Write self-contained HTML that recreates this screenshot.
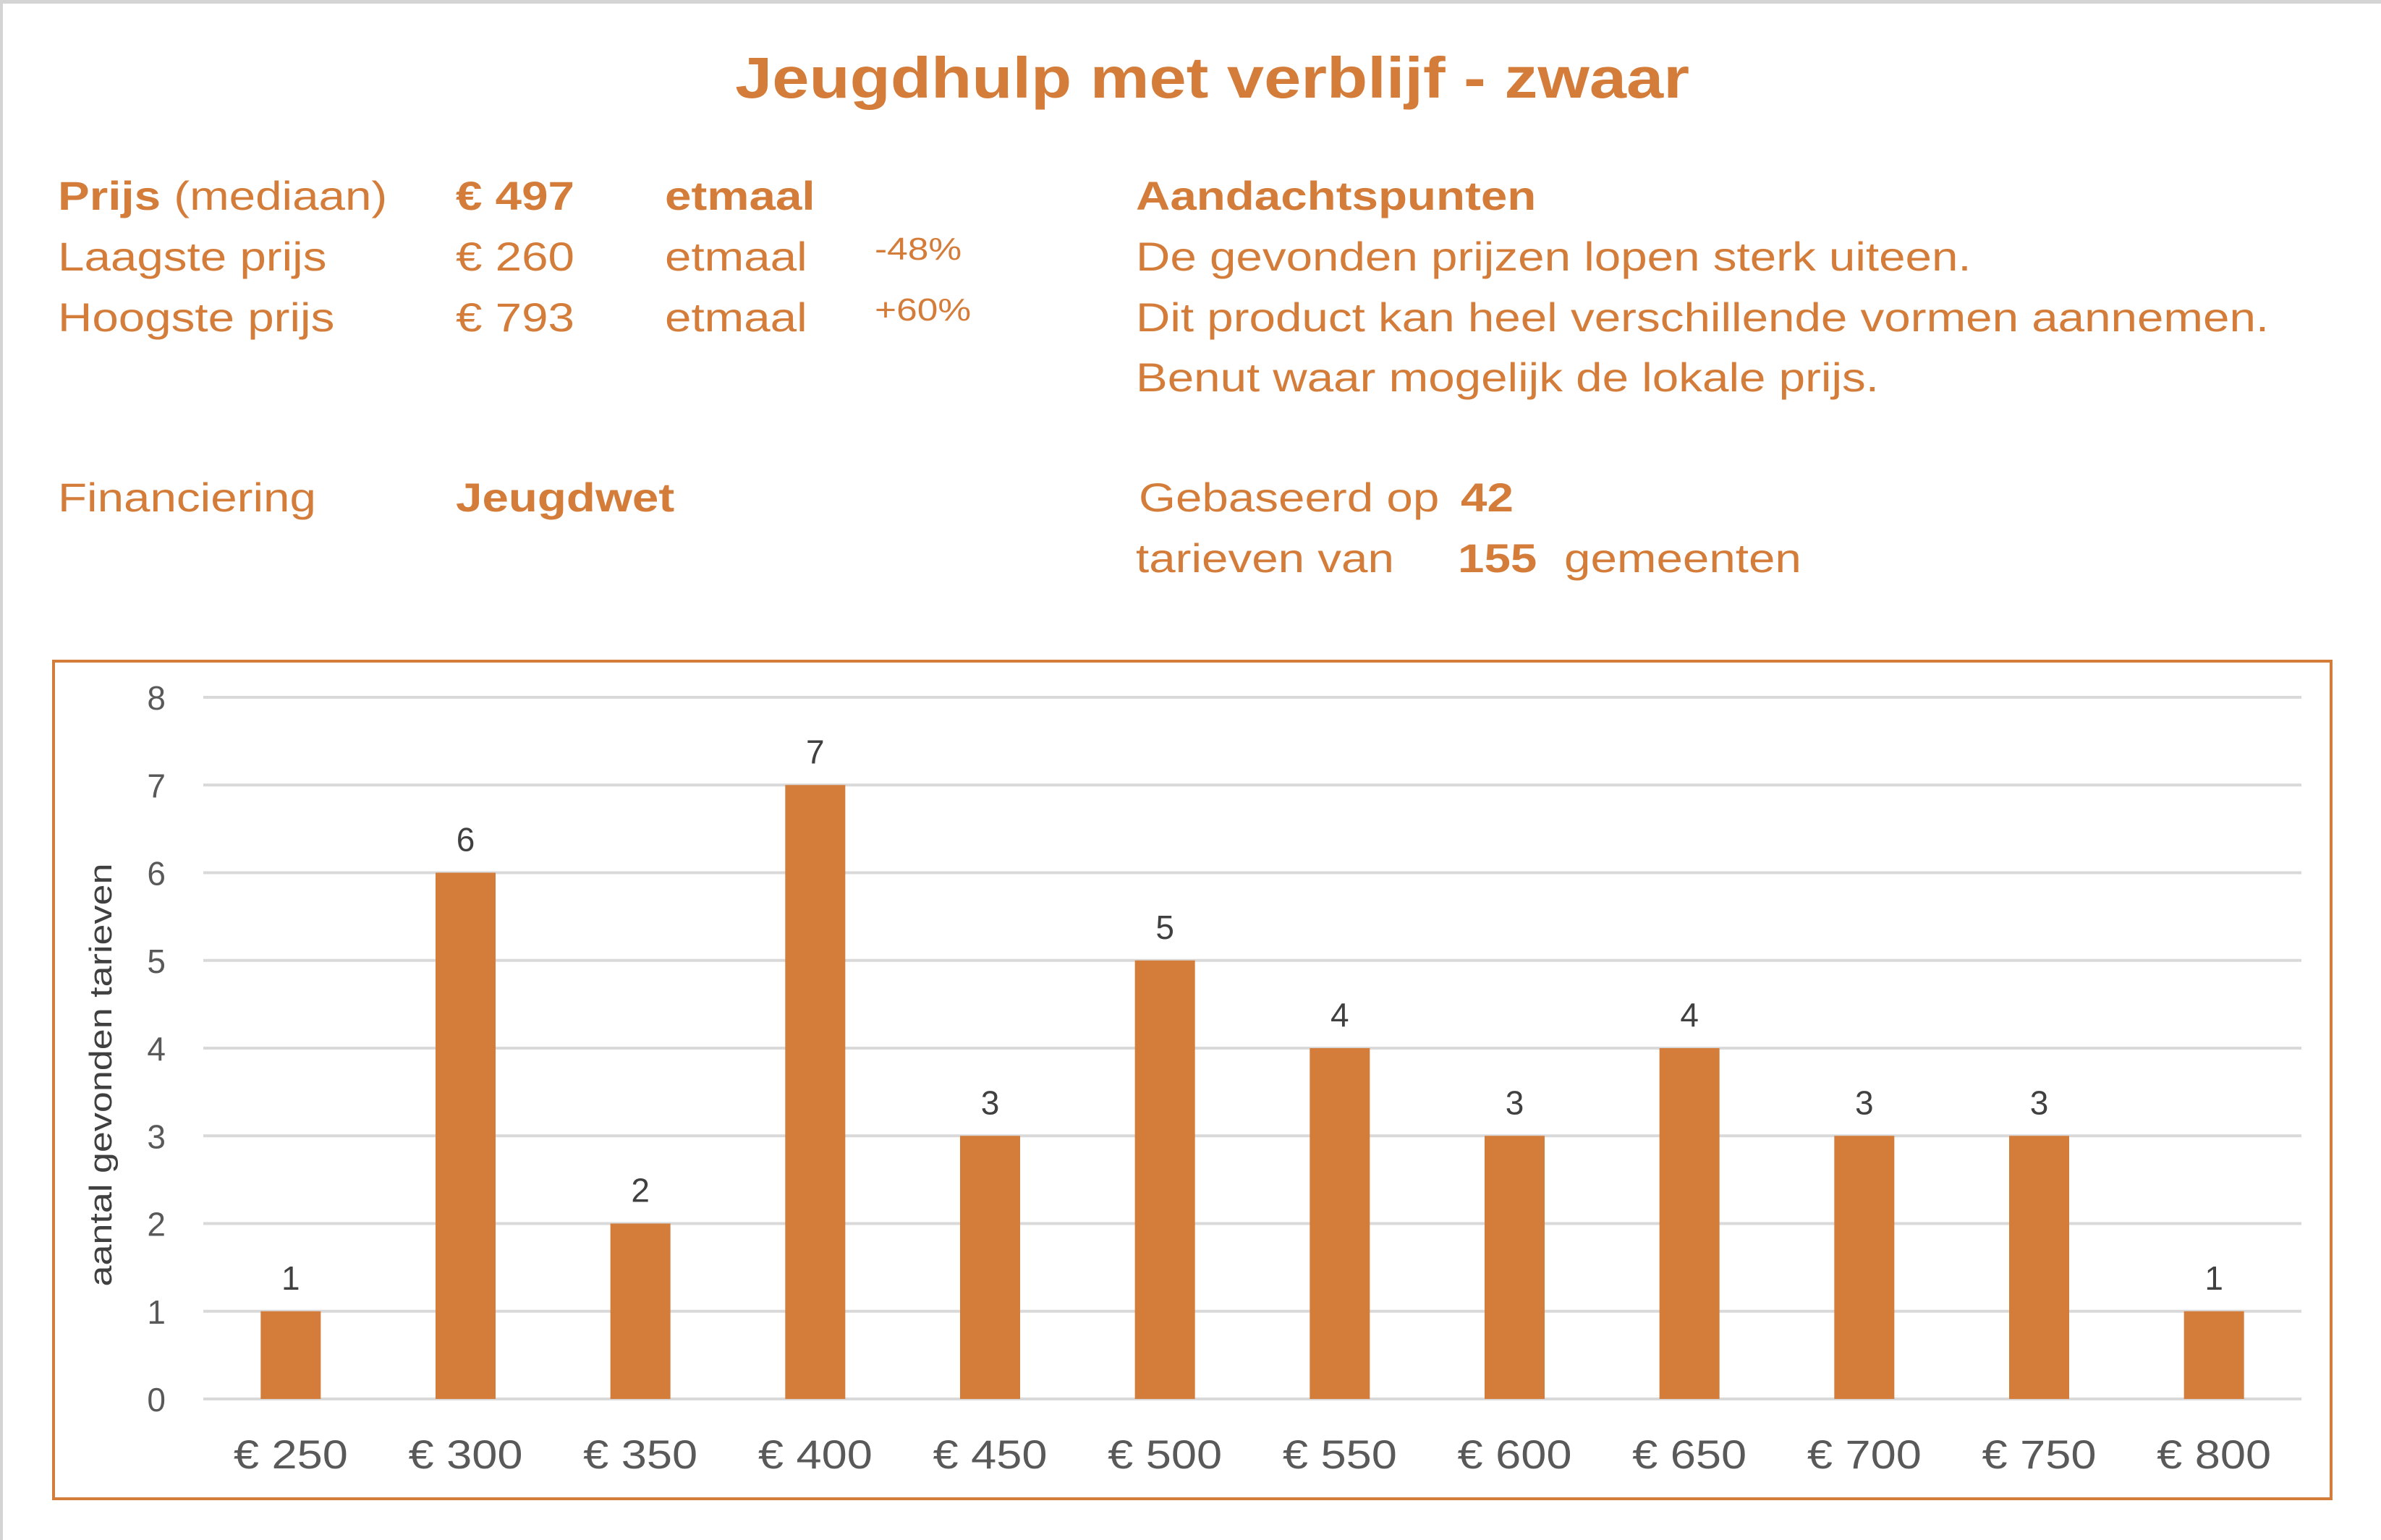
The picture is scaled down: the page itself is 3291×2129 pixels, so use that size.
<!DOCTYPE html>
<html><head><meta charset="utf-8"><style>
html,body{margin:0;padding:0;background:#fff}
body{width:3291px;height:2129px;overflow:hidden;position:relative;font-family:"Liberation Sans",sans-serif}
.t{position:absolute;color:#D47D3A;font-size:56px;white-space:nowrap;line-height:1;transform:scaleX(1.17);transform-origin:left top}
.b{font-weight:bold}
</style></head><body>
<div style="position:absolute;left:0;top:0;width:3291px;height:2129px;border-top:5px solid #d4d4d4;border-left:4px solid #d4d4d4;box-sizing:border-box"></div>
<div class="t b" style="left:0;width:3351px;text-align:center;top:68px;font-size:80px;transform:scaleX(1.15);transform-origin:1675px 0">Jeugdhulp met verblijf - zwaar</div>

<div class="t" style="left:80px;top:243px"><span class="b">Prijs</span> (mediaan)</div>
<div class="t b" style="left:630px;top:243px">€ 497</div>
<div class="t b" style="left:919px;top:243px">etmaal</div>
<div class="t" style="left:80px;top:327px">Laagste prijs</div>
<div class="t" style="left:630px;top:327px">€ 260</div>
<div class="t" style="left:919px;top:327px">etmaal</div>
<div class="t" style="left:1209px;top:323px;font-size:44px">-48%</div>
<div class="t" style="left:80px;top:411px">Hoogste prijs</div>
<div class="t" style="left:630px;top:411px">€ 793</div>
<div class="t" style="left:919px;top:411px">etmaal</div>
<div class="t" style="left:1209px;top:407px;font-size:44px">+60%</div>

<div class="t b" style="left:1570px;top:243px">Aandachtspunten</div>
<div class="t" style="left:1570px;top:327px">De gevonden prijzen lopen sterk uiteen.</div>
<div class="t" style="left:1570px;top:411px">Dit product kan heel verschillende vormen aannemen.</div>
<div class="t" style="left:1570px;top:494px">Benut waar mogelijk de lokale prijs.</div>

<div class="t" style="left:80px;top:660px">Financiering</div>
<div class="t b" style="left:630px;top:660px">Jeugdwet</div>
<div class="t" style="left:1574px;top:660px">Gebaseerd op</div>
<div class="t b" style="left:2019px;top:660px">42</div>
<div class="t" style="left:1570px;top:744px">tarieven van</div>
<div class="t b" style="left:2015px;top:744px">155</div>
<div class="t" style="left:2162px;top:744px">gemeenten</div>

<svg id="chart" width="3291" height="2129" style="position:absolute;left:0;top:0" font-family="Liberation Sans, sans-serif">
<rect x="74" y="914" width="3148" height="1158" fill="none" stroke="#D47D3A" stroke-width="4"/>
<text transform="translate(154,1486) rotate(-90)" text-anchor="middle" font-size="44" textLength="585" lengthAdjust="spacingAndGlyphs" fill="#404040">aantal gevonden tarieven</text>
<g id="grid"></g><g id="bars"></g>
</svg>
<script>
const categories=["€ 250","€ 300","€ 350","€ 400","€ 450","€ 500","€ 550","€ 600","€ 650","€ 700","€ 750","€ 800"];
const counts=[1,6,2,7,3,5,4,3,4,3,3,1];
const yTicks=[0,1,2,3,4,5,6,7,8];
const NS="http://www.w3.org/2000/svg";
const L=281,R=3181,Y0=1934,Y8=964,yMax=8;
const y=v=>Y0-(Y0-Y8)*v/yMax;
const step=(R-L)/categories.length;
const x=i=>L+step*(i+0.5);
const bw=83;
const grid=document.getElementById('grid'),bars=document.getElementById('bars');
function mk(tag,attrs,parent){const e=document.createElementNS(NS,tag);for(const k in attrs)e.setAttribute(k,attrs[k]);parent.appendChild(e);return e;}
yTicks.forEach(t=>{
  const l=mk('line',{x1:L,x2:R,y1:y(t),y2:y(t),stroke:'#D9D9D9','stroke-width':4},grid);
  
  
  const tx=mk('text',{x:229,y:y(t)+17,'text-anchor':'end','font-size':46,fill:'#595959'},grid);
  tx.textContent=t;
  
  
});
categories.forEach((c,i)=>{
  const v=counts[i];
  const r=mk('rect',{x:x(i)-bw/2,y:y(v),width:bw,height:y(0)-y(v),fill:'#D47D3A'},bars);
  
  
  const vl=mk('text',{x:x(i),y:y(v)-30,'text-anchor':'middle','font-size':46,fill:'#404040'},bars);
  vl.textContent=v;
  
  
  const xl=mk('text',{x:x(i),y:2030,'text-anchor':'middle','font-size':56,fill:'#595959',textLength:158,lengthAdjust:'spacingAndGlyphs'},bars);
  xl.textContent=c;
  
  
});
</script>
</body></html>
